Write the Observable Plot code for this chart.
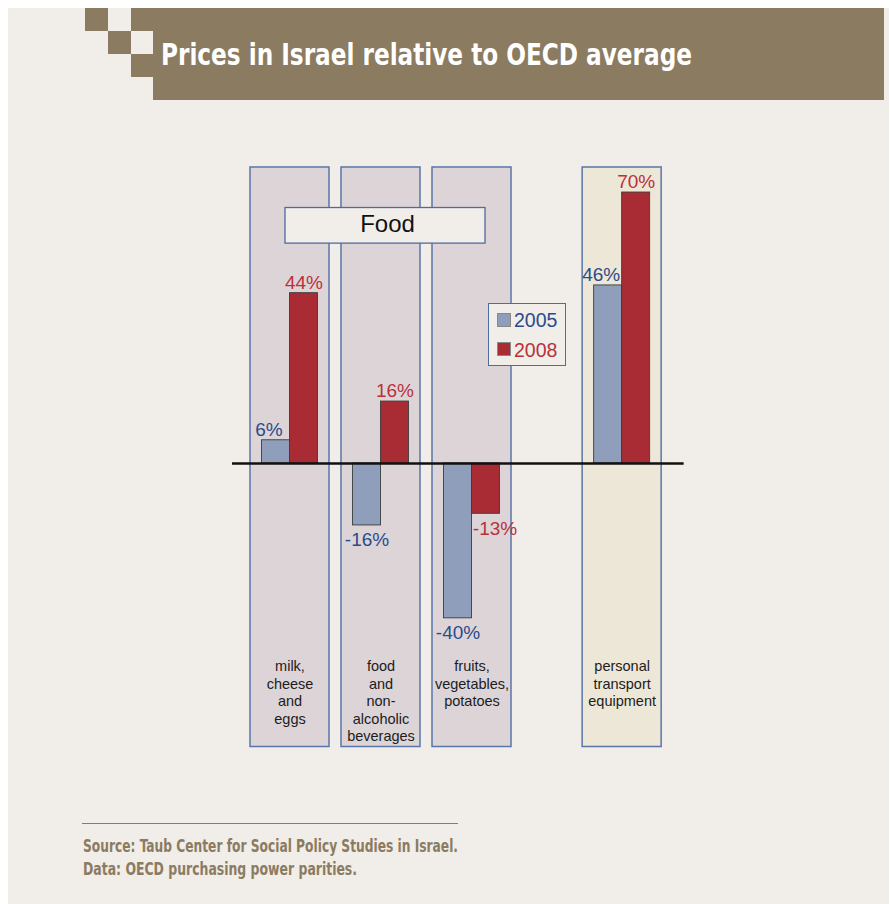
<!DOCTYPE html>
<html>
<head>
<meta charset="utf-8">
<script src="https://cdn.jsdelivr.net/npm/d3@7"></script>
<script src="https://cdn.jsdelivr.net/npm/@observablehq/plot@0.6"></script>
<style>
  html, body { margin: 0; padding: 0; background: #ffffff; }
  #page { position: relative; width: 890px; height: 904px; overflow: hidden; background: #ffffff; }
  #bg { position: absolute; left: 8px; top: 8px; width: 881px; height: 896px; background: #f1ede8; }
  .brown { position: absolute; background: #8b7b61; }
  .fit { position: absolute; white-space: nowrap; transform-origin: 0 0; line-height: 1; }
  #title { left: 161px; color: #ffffff; font: bold 29.5px "Liberation Sans Narrow", "DejaVu Sans Condensed", sans-serif; }
  .source { left: 83px; color: #8b7b61; font: bold 18px "Liberation Sans Narrow", "DejaVu Sans Condensed", sans-serif; }
  #rule { position: absolute; left: 82px; top: 822.5px; width: 376px; height: 0; border-top: 1.2px solid #8b7b61; }
  #chart { position: absolute; left: 0; top: 110px; }
  #legend { position: absolute; left: 488px; top: 303px; width: 78px; height: 63px; border: 1.3px solid #4f6c9f; background: #f1ede8; box-sizing: border-box; }
  .lg-sw { position: absolute; width: 14px; height: 14px; box-sizing: border-box; border: 1px solid #8a8a8a; }
  .lg-tx { position: absolute; font: 19.5px "Liberation Sans", Arial, sans-serif; line-height: 1; white-space: nowrap; }
</style>
</head>
<body>
<div id="page">
  <div id="bg"></div>
  <div class="brown" style="left:153px;top:8px;width:731px;height:92px;"></div>
  <div class="brown" style="left:131px;top:8px;width:22px;height:23px;"></div>
  <div class="brown" style="left:85px;top:8px;width:23px;height:23px;"></div>
  <div class="brown" style="left:108px;top:31px;width:23px;height:23px;"></div>
  <div class="brown" style="left:131px;top:54px;width:22px;height:23px;"></div>
  <div id="title" class="fit" data-w="531" data-base="63">Prices in Israel relative to OECD average</div>
  <div id="chart"></div>
  <div id="legend"></div>
  <div id="rule"></div>
  <div class="fit source" data-w="375" data-base="850.7">Source: Taub Center for Social Policy Studies in Israel.</div>
  <div class="fit source" data-w="274" data-base="873">Data: OECD purchasing power parities.</div>
</div>
<script>
// ---------- data ----------
const categories = [
  "milk, cheese and eggs",
  "food and non-alcoholic beverages",
  "fruits, vegetables, potatoes",
  "personal transport equipment"
];
const categoryLabels = [
  "milk,\ncheese\nand\neggs",
  "food\nand\nnon-\nalcoholic\nbeverages",
  "fruits,\nvegetables,\npotatoes",
  "personal\ntransport\nequipment"
];
const groups = ["Food", "Food", "Food", null];
const years = ["2005", "2008"];
const values2005 = [6, -16, -40, 46];
const values2008 = [44, 16, -13, 70];

// ---------- styling / layout constants ----------
const barColors = ["#8f9eba", "#a92b34"];
const textColors = ["#2a4b8c", "#b8323a"];
const panelFill = {food: "#ddd4d8", other: "#ede7d7"};
const PX_PER_SLOT = 91;
const GROUP_GAP = 0.65;
const BAR_W = 28 / PX_PER_SLOT;
const PANEL_HALF = 39.5 / PX_PER_SLOT;
const PANEL_TOP = 76.47, PANEL_BOTTOM = -73.24;
const LABEL_TOP = -50.4;

// slot positions (group gap between different groups)
const slot = [];
{
  let s = 0;
  categories.forEach((c, i) => {
    if (i > 0) { s += 1; if (groups[i] !== groups[i - 1]) s += GROUP_GAP; }
    slot.push(s);
  });
}

const panels = categories.map((c, i) => ({cat: c, label: categoryLabels[i], group: groups[i], pos: slot[i]}));
const bars = categories.flatMap((c, i) => {
  const vals = [values2005[i], values2008[i]];
  return years.map((y, j) => {
    const v = vals[j], o = vals[1 - j];
    // shift label away from sibling bar if sibling is same sign and larger
    const shift = (Math.sign(v) === Math.sign(o) && Math.abs(o) > Math.abs(v)) ? (j === 0 ? -7 : 9) / PX_PER_SLOT : 0;
    return {cat: c, year: y, j, value: v, pos: slot[i], labelX: slot[i] + (j - 0.5) * BAR_W + shift};
  });
});

const foodSlots = panels.filter(p => p.group === "Food").map(p => p.pos);
const groupBoxes = [{
  name: "Food",
  x1: d3.min(foodSlots) - 4.5 / PX_PER_SLOT,
  x2: d3.max(foodSlots) + 13.5 / PX_PER_SLOT,
  y1: 56.8, y2: 66.0
}];

const W = 890, H = 690;
const x0 = 289.5;
const chart = Plot.plot({
  width: W, height: H,
  marginLeft: 0, marginRight: 0, marginTop: 0, marginBottom: 0,
  style: {background: "transparent", fontFamily: "'Liberation Sans', Arial, sans-serif", overflow: "visible"},
  x: {type: "linear", domain: [-x0 / PX_PER_SLOT, (W - x0) / PX_PER_SLOT], axis: null},
  y: {type: "linear", domain: [-87.06, 91.19], axis: null},
  color: {domain: years, range: barColors},
  marks: [
    Plot.rect(panels, {
      x1: d => d.pos - PANEL_HALF, x2: d => d.pos + PANEL_HALF,
      y1: () => PANEL_BOTTOM, y2: () => PANEL_TOP,
      fill: d => d.group === "Food" ? panelFill.food : panelFill.other,
      stroke: "#5a76a8", strokeWidth: 1.5
    }),
    Plot.rect(groupBoxes, {
      x1: "x1", x2: "x2", y1: "y1", y2: "y2",
      fill: "#f1ede8", stroke: "#4f6c9f", strokeWidth: 1.3
    }),
    Plot.text(groupBoxes, {
      x: d => (d.x1 + d.x2) / 2, y: d => (d.y1 + d.y2) / 2, text: "name",
      fontSize: 24, fill: "#111", dx: 2, dy: -1.5, lineAnchor: "middle"
    }),
    Plot.rect(bars, {
      x1: d => d.pos + (d.j - 1) * BAR_W, x2: d => d.pos + d.j * BAR_W,
      y1: () => 0, y2: "value",
      fill: "year", stroke: "#3c3c3c", strokeWidth: 0.9
    }),
    Plot.ruleY([0], {
      x1: () => slot[0] - 57.5 / PX_PER_SLOT,
      x2: () => slot[slot.length - 1] + 62 / PX_PER_SLOT,
      stroke: "#111", strokeWidth: 2.6
    }),
    Plot.text(bars.filter(d => d.value >= 0), {
      x: "labelX", y: "value", text: d => d.value + "%",
      fill: d => textColors[d.j], fontSize: 19, lineAnchor: "bottom", dy: -4.5
    }),
    Plot.text(bars.filter(d => d.value < 0), {
      x: "labelX", y: "value", text: d => d.value + "%",
      fill: d => textColors[d.j], fontSize: 19, lineAnchor: "top", dy: 7.5
    }),
    Plot.text(panels, {
      x: "pos", y: () => LABEL_TOP, text: "label",
      fontSize: 14.5, lineHeight: 1.214, lineAnchor: "top", fill: "#1c1c1c"
    })
  ]
});
document.getElementById("chart").appendChild(chart);

// legend (HTML)
const legend = document.getElementById("legend");
years.forEach((y, j) => {
  const sw = document.createElement("div");
  sw.className = "lg-sw";
  sw.style.left = "7.5px";
  sw.style.top = (9 + j * 29) + "px";
  sw.style.background = barColors[j];
  legend.appendChild(sw);
  const tx = document.createElement("div");
  tx.className = "lg-tx";
  tx.textContent = y;
  tx.style.left = "25px";
  tx.style.top = (7.4 + j * 29.3) + "px";
  tx.style.color = textColors[j];
  legend.appendChild(tx);
});

// fit text blocks to reference widths & baselines
document.querySelectorAll(".fit").forEach(el => {
  const fs = parseFloat(getComputedStyle(el).fontSize);
  el.style.top = (parseFloat(el.dataset.base) - 0.8465 * fs) + "px";
  const w = el.getBoundingClientRect().width;
  const target = parseFloat(el.dataset.w);
  if (w > 0) el.style.transform = `scaleX(${target / w})`;
});
</script>
</body>
</html>
